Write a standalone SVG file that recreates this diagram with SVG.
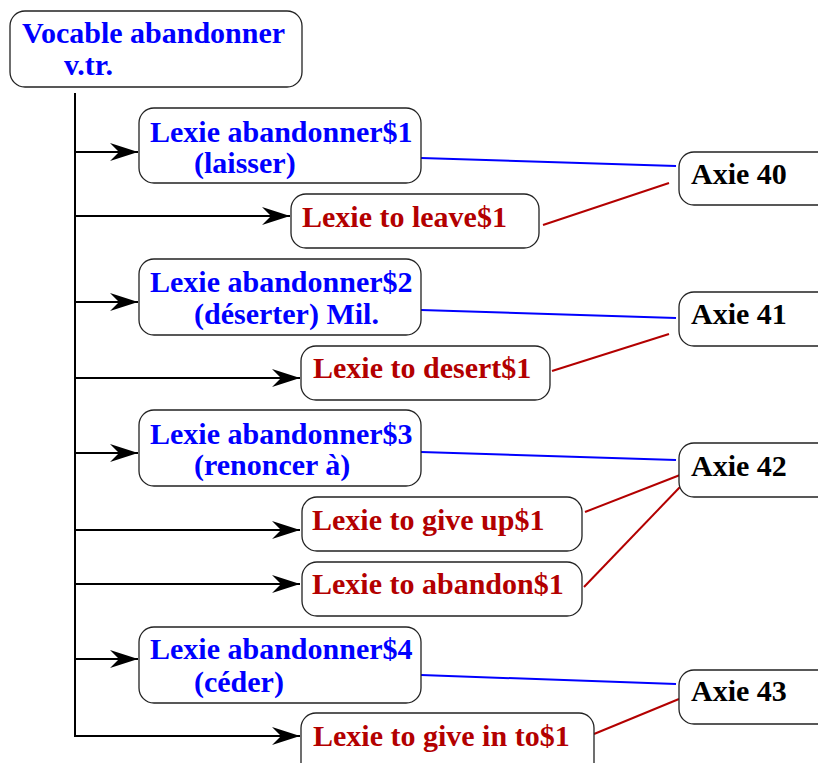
<svg xmlns="http://www.w3.org/2000/svg" width="818" height="763" viewBox="0 0 818 763">
<style>
.box{fill:#fff;stroke:#222;stroke-width:1.3}
text{font-family:"Liberation Serif","Times New Roman",serif;font-weight:bold;font-size:30px}
.fr{fill:#0000ff}
.en{fill:#b30000}
.ax{fill:#000}
.arr{fill:none;stroke:#000;stroke-width:2;marker-end:url(#ah)}
.bl{stroke:#0000ff;stroke-width:2;fill:none}
.rd{stroke:#b30000;stroke-width:2;fill:none}
</style>
<defs>
<marker id="ah" markerUnits="userSpaceOnUse" markerWidth="30" markerHeight="20" viewBox="-29 -10 30 20" refX="0" refY="0" orient="auto">
<path d="M0,0 L-28,-9 L-19,0 L-28,9 Z" fill="#000"/>
</marker>
</defs>
<g id="connectors">
<path d="M75,93 V736" stroke="#000" stroke-width="2" fill="none"/>
<path class="arr" d="M74,152 H138"/>
<path class="arr" d="M74,216 H290"/>
<path class="arr" d="M74,302 H138"/>
<path class="arr" d="M74,378 H300"/>
<path class="arr" d="M74,453 H138"/>
<path class="arr" d="M74,530 H300"/>
<path class="arr" d="M74,584 H300"/>
<path class="arr" d="M74,659 H138"/>
<path class="arr" d="M74,736 H300"/>
<path class="bl" d="M421,158 L676,166"/>
<path class="rd" d="M543,225 L669,183"/>
<path class="bl" d="M421,310 L676,318"/>
<path class="rd" d="M552,371 L669,334"/>
<path class="bl" d="M421,452 L676,460"/>
<path class="rd" d="M585,512 L680,475"/>
<path class="rd" d="M584,587 L680,487"/>
<path class="bl" d="M421,675 L676,684"/>
<path class="rd" d="M594,734 L679,699"/>
</g>
<g id="vocable">
<rect class="box" x="10" y="11" width="292" height="76" rx="15"/>
<text class="fr" x="22" y="43">Vocable abandonner</text>
<text class="fr" x="64" y="75">v.tr.</text>
</g>
<g id="lexie-abandonner1">
<rect class="box" x="139" y="108" width="282" height="75" rx="15"/>
<text class="fr" x="150" y="142">Lexie abandonner$1</text>
<text class="fr" x="194" y="173">(laisser)</text>
</g>
<g id="lexie-leave1">
<rect class="box" x="291" y="194" width="248" height="54" rx="15"/>
<text class="en" x="302" y="227">Lexie to leave$1</text>
</g>
<g id="axie40">
<rect class="box" x="679" y="152" width="160" height="53" rx="15"/>
<text class="ax" x="691" y="184">Axie 40</text>
</g>
<g id="lexie-abandonner2">
<rect class="box" x="139" y="259" width="282" height="76" rx="15"/>
<text class="fr" x="150" y="292">Lexie abandonner$2</text>
<text class="fr" x="194" y="324">(déserter) Mil.</text>
</g>
<g id="lexie-desert1">
<rect class="box" x="301" y="346" width="249" height="54" rx="15"/>
<text class="en" x="313" y="378">Lexie to desert$1</text>
</g>
<g id="axie41">
<rect class="box" x="679" y="292" width="160" height="54" rx="15"/>
<text class="ax" x="691" y="324">Axie 41</text>
</g>
<g id="lexie-abandonner3">
<rect class="box" x="139" y="410" width="282" height="76" rx="15"/>
<text class="fr" x="150" y="444">Lexie abandonner$3</text>
<text class="fr" x="194" y="475">(renoncer à)</text>
</g>
<g id="lexie-giveup1">
<rect class="box" x="302" y="497" width="280" height="54" rx="15"/>
<text class="en" x="312" y="530">Lexie to give up$1</text>
</g>
<g id="lexie-abandon1">
<rect class="box" x="302" y="562" width="280" height="54" rx="15"/>
<text class="en" x="312" y="594">Lexie to abandon$1</text>
</g>
<g id="axie42">
<rect class="box" x="679" y="443" width="160" height="54" rx="15"/>
<text class="ax" x="691" y="476">Axie 42</text>
</g>
<g id="lexie-abandonner4">
<rect class="box" x="139" y="627" width="282" height="76" rx="15"/>
<text class="fr" x="150" y="659">Lexie abandonner$4</text>
<text class="fr" x="194" y="692">(céder)</text>
</g>
<g id="lexie-givein1">
<rect class="box" x="301" y="713" width="293" height="70" rx="15"/>
<text class="en" x="313" y="746">Lexie to give in to$1</text>
</g>
<g id="axie43">
<rect class="box" x="679" y="670" width="160" height="54" rx="15"/>
<text class="ax" x="691" y="701">Axie 43</text>
</g>
</svg>
